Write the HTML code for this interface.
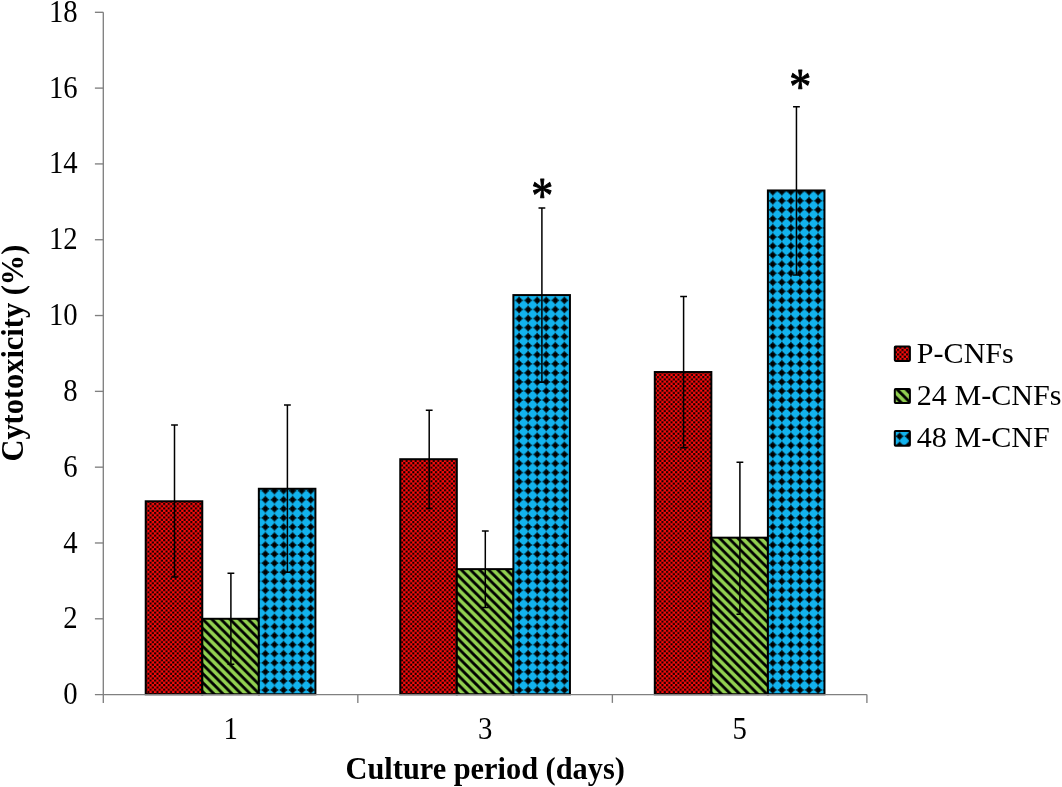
<!DOCTYPE html>
<html lang="en"><head><meta charset="utf-8"><title>Cytotoxicity chart</title>
<style>html,body{margin:0;padding:0;background:#fff;}body{width:1062px;height:787px;overflow:hidden;}svg{display:block;}text{font-family:"Liberation Serif",serif;fill:#000;}</style>
</head><body>
<svg width="1062" height="787" viewBox="0 0 1062 787">
<defs>
<pattern id="pr" patternUnits="userSpaceOnUse" x="0" y="0" width="4.53" height="4.53"><rect width="4.53" height="4.53" fill="#ff0a0a"/><rect x="0.1" y="0.1" width="2.06" height="2.06" fill="#000"/><rect x="2.365" y="2.365" width="2.06" height="2.06" fill="#000"/></pattern>
<pattern id="pg" patternUnits="userSpaceOnUse" x="0.32" y="0" width="9.06" height="9.06"><rect width="9.06" height="9.06" fill="#92d050"/><path d="M-9.06 -9.06 L18.12 18.12 M-9.06 0 L9.06 18.12 M0 -9.06 L18.12 9.06" stroke="#000" stroke-width="2.75" fill="none"/></pattern>
<pattern id="pb" patternUnits="userSpaceOnUse" x="-1.85" y="-3.09" width="9.06" height="9.06"><rect width="9.06" height="9.06" fill="#12b3ee"/><g transform="translate(4.53 4.53)" fill="#000"><rect x="-2.45" y="-2.45" width="4.9" height="4.9" rx="1.6"/><path d="M0 -4.4 L1.15 -2.3 L-1.15 -2.3Z M0 4.4 L1.15 2.3 L-1.15 2.3Z M-4.4 0 L-2.3 1.15 L-2.3 -1.15Z M4.4 0 L2.3 1.15 L2.3 -1.15Z"/></g></pattern>
</defs>
<rect width="1062" height="787" fill="#fff"/>
<text transform="translate(77.7 704.15) scale(0.955 1.058)" font-size="30.1" text-anchor="end">0</text>
<text transform="translate(77.7 628.34) scale(0.955 1.058)" font-size="30.1" text-anchor="end">2</text>
<text transform="translate(77.7 552.53) scale(0.955 1.058)" font-size="30.1" text-anchor="end">4</text>
<text transform="translate(77.7 476.72) scale(0.955 1.058)" font-size="30.1" text-anchor="end">6</text>
<text transform="translate(77.7 400.91) scale(0.955 1.058)" font-size="30.1" text-anchor="end">8</text>
<text transform="translate(77.7 325.09) scale(0.955 1.058)" font-size="30.1" text-anchor="end">10</text>
<text transform="translate(77.7 249.28) scale(0.955 1.058)" font-size="30.1" text-anchor="end">12</text>
<text transform="translate(77.7 173.47) scale(0.955 1.058)" font-size="30.1" text-anchor="end">14</text>
<text transform="translate(77.7 97.66) scale(0.955 1.058)" font-size="30.1" text-anchor="end">16</text>
<text transform="translate(77.7 21.85) scale(0.955 1.058)" font-size="30.1" text-anchor="end">18</text>
<text transform="translate(230.57 739.3) scale(0.955 1.058)" font-size="30.1" text-anchor="middle">1</text>
<text transform="translate(485.10 739.3) scale(0.955 1.058)" font-size="30.1" text-anchor="middle">3</text>
<text transform="translate(739.63 739.3) scale(0.955 1.058)" font-size="30.1" text-anchor="middle">5</text>
<rect x="145.72" y="501.28" width="56.56" height="192.97" fill="url(#pr)" stroke="#000" stroke-width="2"/>
<rect x="202.29" y="618.79" width="56.56" height="75.46" fill="url(#pg)" stroke="#000" stroke-width="2"/>
<rect x="258.85" y="488.77" width="56.56" height="205.48" fill="url(#pb)" stroke="#000" stroke-width="2"/>
<rect x="400.26" y="459.21" width="56.56" height="235.04" fill="url(#pr)" stroke="#000" stroke-width="2"/>
<rect x="456.82" y="569.13" width="56.56" height="125.12" fill="url(#pg)" stroke="#000" stroke-width="2"/>
<rect x="513.38" y="295.08" width="56.56" height="399.17" fill="url(#pb)" stroke="#000" stroke-width="2"/>
<rect x="654.79" y="372.02" width="56.56" height="322.23" fill="url(#pr)" stroke="#000" stroke-width="2"/>
<rect x="711.35" y="537.67" width="56.56" height="156.58" fill="url(#pg)" stroke="#000" stroke-width="2"/>
<rect x="767.91" y="190.46" width="56.56" height="503.79" fill="url(#pb)" stroke="#000" stroke-width="2"/>
<g stroke="#808080" stroke-width="1.35" fill="none">
<path d="M103.3 12.3 V702.9"/>
<path d="M94.89999999999999 694.6 H866.9"/>
<path d="M94.89999999999999 618.79 H103.3"/>
<path d="M94.89999999999999 542.98 H103.3"/>
<path d="M94.89999999999999 467.17 H103.3"/>
<path d="M94.89999999999999 391.36 H103.3"/>
<path d="M94.89999999999999 315.54 H103.3"/>
<path d="M94.89999999999999 239.73 H103.3"/>
<path d="M94.89999999999999 163.92 H103.3"/>
<path d="M94.89999999999999 88.11 H103.3"/>
<path d="M94.89999999999999 12.30 H103.3"/>
<path d="M357.83 694.6 V702.9"/>
<path d="M612.37 694.6 V702.9"/>
<path d="M866.90 694.6 V702.9"/>
</g>
<g stroke="#000" stroke-width="1.5" fill="none">
<path d="M171.10 425.09 H177.90 M174.50 425.09 V577.09 M171.10 577.09 H177.90"/>
<path d="M227.50 573.30 H234.30 M230.90 573.30 V664.28 M227.50 664.28 H234.30"/>
<path d="M284.00 405.00 H290.80 M287.40 405.00 V572.17 M284.00 572.17 H290.80"/>
<path d="M425.80 410.31 H432.60 M429.20 410.31 V508.48 M425.80 508.48 H432.60"/>
<path d="M481.90 531.04 H488.70 M485.30 531.04 V607.42 M481.90 607.42 H488.70"/>
<path d="M538.50 207.89 H545.30 M541.90 207.89 V382.26 M538.50 382.26 H545.30"/>
<path d="M680.20 296.59 H687.00 M683.60 296.59 V447.83 M680.20 447.83 H687.00"/>
<path d="M736.50 462.24 H743.30 M739.90 462.24 V614.24 M736.50 614.24 H743.30"/>
<path d="M793.05 106.68 H799.85 M796.45 106.68 V274.99 M793.05 274.99 H799.85"/>
</g>
<text transform="translate(541.95 187.8) scale(0.44 0.51)" x="-24.5" y="47.5" font-size="100" stroke="#000" stroke-width="2" stroke-linejoin="round">*</text>
<text transform="translate(799.95 78.6) scale(0.44 0.51)" x="-24.5" y="47.5" font-size="100" stroke="#000" stroke-width="2" stroke-linejoin="round">*</text>
<text transform="translate(485.2 778.5) scale(1 1.05)" font-size="30.36" font-weight="bold" text-anchor="middle">Culture period (days)</text>
<text transform="translate(23.4 353.1) rotate(-90) scale(1 1.05)" font-size="30.4" font-weight="bold" text-anchor="middle">Cytotoxicity (%)</text>
<rect x="894.8" y="346.4" width="15.1" height="14.5" rx="0.8" fill="url(#pr)" stroke="#000" stroke-width="2"/>
<text x="916.8" y="362.9" font-size="30.1">P-CNFs</text>
<rect x="894.8" y="389.1" width="15.1" height="13.9" rx="0.8" fill="url(#pg)" stroke="#000" stroke-width="2"/>
<text x="916.8" y="405.0" font-size="30.1">24 M-CNFs</text>
<rect x="894.8" y="431.0" width="15.1" height="14.7" rx="0.8" fill="url(#pb)" stroke="#000" stroke-width="2"/>
<text x="916.8" y="446.8" font-size="30.1">48 M-CNF</text>
</svg>
</body></html>
